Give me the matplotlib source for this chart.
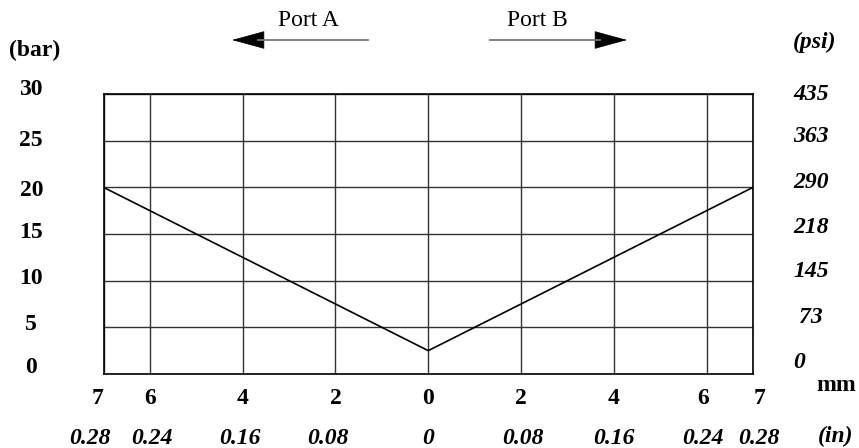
import matplotlib
matplotlib.use("Agg")
import matplotlib.pyplot as plt
from matplotlib.transforms import ScaledTranslation
from matplotlib.lines import Line2D

# ---- data ----
stroke_mm = [-7, 0, 7]
pressure_bar = [20, 2.5, 20]

x_tick_pos = [-7, -6, -4, -2, 0, 2, 4, 6, 7]
x_mm_labels = ["7", "6", "4", "2", "0", "2", "4", "6", "7"]
x_in_labels = ["0.28", "0.24", "0.16", "0.08", "0", "0.08", "0.16", "0.24", "0.28"]
y_bar_ticks = [0, 5, 10, 15, 20, 25, 30]
y_psi_ticks = [0, 73, 145, 218, 290, 363, 435]
PSI_PER_BAR = 14.5

W, H = 859, 448
DPI = 100
FS = 17
plt.rcParams["font.family"] = ["Liberation Serif", "DejaVu Serif"]

fig = plt.figure(figsize=(W / DPI, H / DPI), dpi=DPI)
L, R, T, B = 103.5, 753, 94, 374
ax = fig.add_axes([L / W, 1 - B / H, (R - L) / W, (B - T) / H])

ax.plot(stroke_mm, pressure_bar, color="black", lw=1.2, zorder=3)
ax.set_xlim(-7, 7)
ax.set_ylim(0, 30)

ax.set_xticks(x_tick_pos)
ax.set_xticklabels(x_mm_labels)
ax.set_yticks(y_bar_ticks)
ax.set_yticklabels([str(v) for v in y_bar_ticks])
ax.grid(True, color="#333333", lw=1.0)
for s in ax.spines.values():
    s.set_color("black")
    s.set_linewidth(1.2)


def shift(lab, dx, dy):
    lab.set_transform(lab.get_transform() + ScaledTranslation(dx / DPI, dy / DPI, fig.dpi_scale_trans))


ax.tick_params(axis="x", length=0, pad=10, labelsize=FS)
ax.tick_params(axis="y", length=0, pad=52, labelsize=FS)
mm_dx = [-6, 0, 0, 0, 0, 0, 0, -3, 7]
for lab, dx in zip(ax.get_xticklabels(), mm_dx):
    lab.set_fontweight("bold")
    shift(lab, dx, 0)
bar_dy = [9, 5, 5, 4, -1, 3, 7]
for lab, dy in zip(ax.get_yticklabels(), bar_dy):
    lab.set_fontweight("bold")
    lab.set_horizontalalignment("center")
    shift(lab, 0, dy)

# inches row
sec_x = ax.secondary_xaxis("bottom")
sec_x.set_xticks(x_tick_pos)
sec_x.set_xticklabels(x_in_labels)
sec_x.tick_params(axis="x", length=0, pad=39, labelsize=FS)
sec_x.spines["bottom"].set_visible(False)
in_dx = [-14, 2, -3, -8, 0, 2, 0, -4, 6]
for lab, dx in zip(sec_x.get_xticklabels(), in_dx):
    lab.set_fontweight("bold")
    lab.set_fontstyle("italic")
    shift(lab, dx, 0)

# psi axis
sec_y = ax.secondary_yaxis("right", functions=(lambda b: b * PSI_PER_BAR, lambda p: p / PSI_PER_BAR))
sec_y.set_yticks(y_psi_ticks)
sec_y.set_yticklabels([str(v) for v in y_psi_ticks])
sec_y.tick_params(axis="y", length=0, pad=42, labelsize=FS)
sec_y.spines["right"].set_visible(False)
psi_dy = [14, 12, 12, 9, 7, 6, 2]
psi_dx = [-12, 0, 0, 0, 0, 0, 0]
for lab, dx, dy in zip(sec_y.get_yticklabels(), psi_dx, psi_dy):
    lab.set_fontweight("bold")
    lab.set_fontstyle("italic")
    lab.set_horizontalalignment("center")
    shift(lab, dx, dy)


def fx(px):
    return px / W


def fy(py):
    return 1 - py / H


fig.text(fx(35), fy(50), "(bar)", ha="center", va="center", fontsize=FS, fontweight="bold")
fig.text(fx(815), fy(42), "(psi)", ha="center", va="center", fontsize=FS, fontweight="bold", fontstyle="italic")
fig.text(fx(836), fy(385), "mm", ha="center", va="center", fontsize=FS, fontweight="bold")
fig.text(fx(836), fy(436), "(in)", ha="center", va="center", fontsize=FS, fontweight="bold", fontstyle="italic")

fig.text(fx(308), fy(20), "Port A", ha="center", va="center", fontsize=17)
fig.text(fx(537), fy(20), "Port B", ha="center", va="center", fontsize=17)

# arrows
fig.add_artist(Line2D([fx(368), fx(258)], [fy(40), fy(40)], color="#777777", lw=1.3, transform=fig.transFigure))
fig.add_artist(Line2D([fx(490), fx(600)], [fy(40), fy(40)], color="#777777", lw=1.3, transform=fig.transFigure))
arrow_style = "-|>,head_length=2.2,head_width=0.6"
ax.annotate("", xy=(fx(232), fy(40)), xytext=(fx(262), fy(40)), xycoords="figure fraction",
            textcoords="figure fraction",
            arrowprops=dict(arrowstyle=arrow_style, color="black", lw=0.5, mutation_scale=10,
                            shrinkA=0, shrinkB=0))
ax.annotate("", xy=(fx(627), fy(40)), xytext=(fx(597), fy(40)), xycoords="figure fraction",
            textcoords="figure fraction",
            arrowprops=dict(arrowstyle=arrow_style, color="black", lw=0.5, mutation_scale=10,
                            shrinkA=0, shrinkB=0))

fig.savefig("out.png", dpi=DPI)
